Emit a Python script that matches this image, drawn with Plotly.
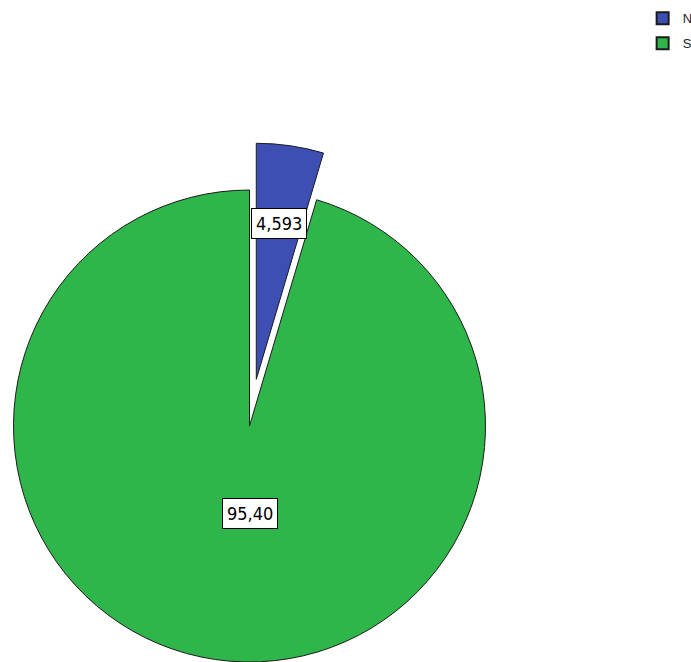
import math
import plotly.graph_objects as go

# Share of responses per category
categories = ["N", "S"]
values = [4.593, 95.40]
label_decimals = [3, 2]
colors = ["#3D4FB3", "#2FB64B"]

# Figure / pie geometry (pixels)
W, H = 691, 662
cx, cy, r = 249.5, 426.0, 236.0
pull = 0.2          # exploded slice offset, as a fraction of the radius
outline = "#1b1b1b"
clear = "rgba(0,0,0,0)"

total = sum(values)
n_span = values[0] / total * 360.0
bis = math.radians(n_span / 2.0)          # bisector of the exploded slice, clockwise from 12 o'clock
dx = pull * r * math.sin(bis)
dy = pull * r * math.cos(bis)


def clamp(v):
    return min(1.0, max(0.0, v))


def domain(px, py):
    return dict(x=[clamp((px - r) / W), clamp((px + r) / W)],
                y=[clamp(1 - (py + r) / H), clamp(1 - (py - r) / H)])


def fmt(v, d):
    return f"{v:.{d}f}".replace(".", ",")


fig = go.Figure()

# Main body of the pie (the S slice), exploded slice left empty
fig.add_trace(go.Pie(
    labels=categories, values=values, sort=False, direction="clockwise", rotation=0,
    marker=dict(colors=[clear, colors[1]],
                line=dict(color=[clear, outline], width=[0, 1])),
    textinfo="none", hoverinfo="label+value", showlegend=False,
    domain=domain(cx, cy),
))

# Exploded N slice, offset along its bisector
fig.add_trace(go.Pie(
    labels=categories, values=values, sort=False, direction="clockwise", rotation=0,
    marker=dict(colors=[colors[0], clear],
                line=dict(color=[outline, clear], width=[1, 0])),
    textinfo="none", hoverinfo="label+value", showlegend=False,
    domain=domain(cx + dx, cy - dy),
))

# Legend entries
for cat, col in zip(categories, colors):
    fig.add_trace(go.Scatter(
        x=[None], y=[None], mode="markers", name=cat, legendgroup=cat,
        marker=dict(symbol="square", size=11, color=col, line=dict(color=outline, width=1)),
    ))

# Boxed value labels
label_frac = [0.667, 0.37]
label_angle = [math.degrees(bis), 180.0]
centers = [(cx + dx, cy - dy), (cx, cy)]
label_font = dict(family="DejaVu Sans Condensed, Liberation Sans, Arial, sans-serif",
                  size=18, color="black")
annotations = []
for v, d, frac, ang, (pcx, pcy) in zip(values, label_decimals, label_frac, label_angle, centers):
    a = math.radians(ang)
    px = pcx + frac * r * math.sin(a)
    py = pcy - frac * r * math.cos(a)
    annotations.append(dict(
        x=px / W, y=1 - py / H, xref="paper", yref="paper",
        xanchor="center", yanchor="middle",
        text=fmt(v, d), showarrow=False,
        bgcolor="white", bordercolor="black", borderwidth=1, borderpad=4,
        font=label_font,
    ))

fig.update_layout(
    width=W, height=H,
    margin=dict(l=0, r=0, t=0, b=0, autoexpand=False),
    paper_bgcolor="white", plot_bgcolor="white",
    xaxis=dict(visible=False), yaxis=dict(visible=False),
    legend=dict(x=0.93, y=0.995, xanchor="left", yanchor="top",
                font=dict(family="Liberation Sans, Arial, sans-serif", size=13, color="#222"),
                bgcolor=clear, tracegroupgap=5, itemsizing="constant"),
    annotations=annotations,
)

fig.write_html("out.html")
